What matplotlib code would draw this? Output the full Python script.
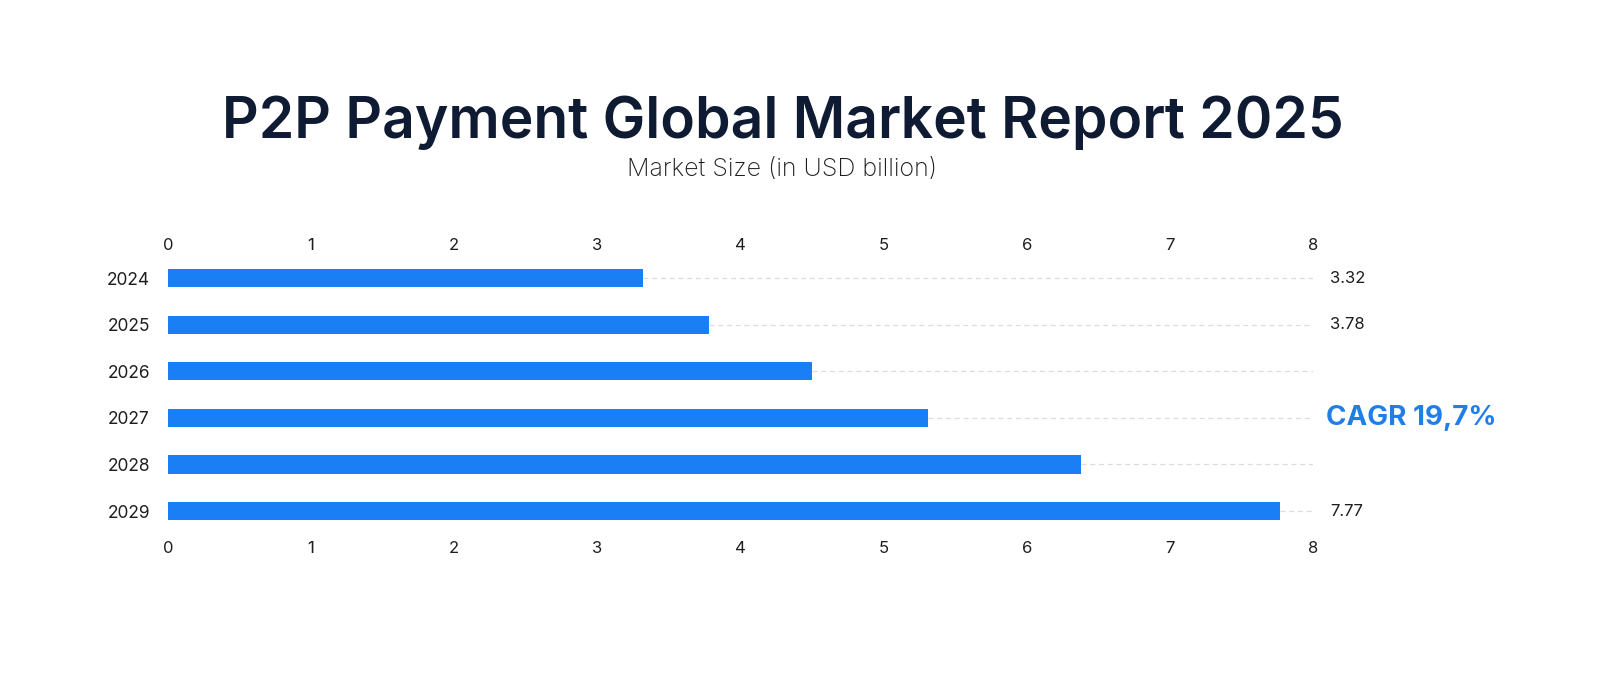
import matplotlib
matplotlib.use('Agg')
import matplotlib.pyplot as plt

plt.rcParams['font.family'] = ['Inter', 'DejaVu Sans']

years = ['2024', '2025', '2026', '2027', '2028', '2029']
values = [3.32, 3.78, 4.50, 5.31, 6.38, 7.77]
shown_labels = ['3.32', '3.78', '', '', '', '7.77']
xticks = [0, 1, 2, 3, 4, 5, 6, 7, 8]
cagr_text = 'CAGR 19,7%'

bar_color = '#1a7ef5'
title_color = '#0f1b33'

fig = plt.figure(figsize=(16, 6.73), dpi=100)
ax = fig.add_axes([0.105, 0.206, 0.7156, 0.4155])

pos = list(range(len(years)))
ax.barh(pos, values, height=0.39, color=bar_color, zorder=3)

# dashed guide from bar end to the right edge
for p, v in zip(pos, values):
    ax.hlines(p, v, 8, colors='#dcdcdc', linestyles=(0, (4, 3)), linewidth=0.9, zorder=1)

for p, lab in zip(pos, shown_labels):
    if lab:
        ax.text(8.12, p, lab, ha='left', va='center', fontsize=12, color='#1e1e1e')

ax.text(8.09, 3, cagr_text, ha='left', va='center', fontsize=20,
        fontweight='bold', color='#1f7ee8')

ax.set_xlim(0, 8)
ax.set_ylim(5.5, -0.5)
ax.set_xticks(xticks)
ax.set_xticklabels([str(t) for t in xticks])
ax.set_yticks(pos)
ax.set_yticklabels(years)
ax.tick_params(axis='x', length=0, labelsize=12, colors='#1e1e1e', pad=5)
ax.tick_params(axis='y', length=0, labelsize=12.5, colors='#1e1e1e', pad=13)
for s in ax.spines.values():
    s.set_visible(False)

top = ax.secondary_xaxis('top')
top.set_xticks(xticks)
top.set_xticklabels([str(t) for t in xticks])
top.tick_params(length=0, labelsize=12, colors='#1e1e1e', pad=1.5)
top.spines['top'].set_visible(False)

fig.text(0.489, 0.818, 'P2P Payment Global Market Report 2025', ha='center', va='center',
         fontsize=41, fontweight='semibold', color=title_color)
fig.text(0.489, 0.748, 'Market Size (in USD billion)', ha='center', va='center',
         fontsize=18, fontweight='light', color='#1e1e1e')

fig.savefig('out.png', dpi=100, facecolor='white')
